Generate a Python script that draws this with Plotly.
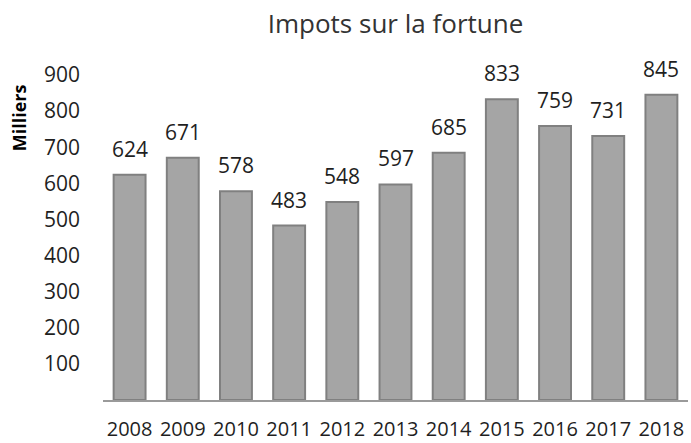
import plotly.graph_objects as go

years = ["2008", "2009", "2010", "2011", "2012", "2013", "2014", "2015", "2016", "2017", "2018"]
values = [624, 671, 578, 483, 548, 597, 685, 833, 759, 731, 845]
y_ticks = [100, 200, 300, 400, 500, 600, 700, 800, 900]

FONT = "Open Sans"

fig = go.Figure()
fig.add_trace(go.Bar(
    x=years, y=values,
    marker=dict(color="#a5a5a5", line=dict(color="#808080", width=2)),
    hoverinfo="skip",
))

for i, v in enumerate(values):
    fig.add_annotation(x=i, y=v, text=str(v), showarrow=False,
                       yanchor="bottom", yshift=10,
                       font=dict(family=FONT, size=21, color="#1f1f1f"))

fig.add_annotation(text="<b>Milliers</b>", textangle=-90, showarrow=False,
                   xref="paper", yref="paper", x=-0.143, y=0.868,
                   xanchor="center", yanchor="middle",
                   font=dict(family=FONT, size=18, color="#000000"))

fig.update_layout(
    width=691, height=443,
    margin=dict(l=103, r=3, t=75, b=43, autoexpand=False),
    paper_bgcolor="white", plot_bgcolor="white",
    bargap=0.4,
    showlegend=False,
    title=dict(text="Impots sur la fortune", x=0.5, xref="paper", xanchor="center",
               y=0.946, yanchor="middle",
               font=dict(family=FONT, size=26, color="#333333")),
    xaxis=dict(type="category", showgrid=False, showline=True, linecolor="#9a9a9a",
               linewidth=2, ticks="", ticklabelstandoff=10, automargin=False,
               tickfont=dict(family=FONT, size=20, color="#1f1f1f")),
    yaxis=dict(range=[0, 900], tickvals=y_ticks, showgrid=False, showline=False,
               zeroline=False, ticks="", ticklabelstandoff=22, automargin=False,
               tickfont=dict(family=FONT, size=21, color="#1f1f1f")),
)

fig.write_html("out.html", config={"displayModeBar": False},
               post_script="document.body.style.margin='0';document.body.style.overflow='hidden';")
